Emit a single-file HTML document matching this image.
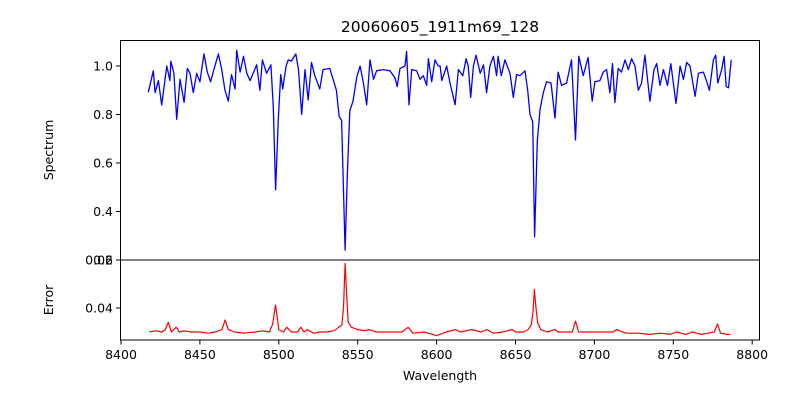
<!DOCTYPE html>
<html><head><meta charset="utf-8"><style>
body{margin:0;background:#fff;}
svg{display:block;font-family:"DejaVu Sans","Liberation Sans",sans-serif;}
</style></head><body>
<svg id="chart" width="800" height="400">
<rect width="800" height="400" fill="#fff"/>
<text x="440" y="32" font-size="15.5" text-anchor="middle">20060605_1911m69_128</text>
<g id="topPanel"></g>
<g id="botPanel"></g>
<g id="xax"></g>
<text x="440" y="380" font-size="12.5" text-anchor="middle">Wavelength</text>
<text transform="translate(53,150) rotate(-90)" font-size="12.5" text-anchor="middle">Spectrum</text>
<text transform="translate(53,300) rotate(-90)" font-size="12.5" text-anchor="middle">Error</text>
</svg>
<script>
const specWave=[8417.3,8420.5,8421.6,8423.7,8425.8,8429,8431,8431.6,8433.5,8435.3,8437.4,8440,8442,8443.7,8445.8,8448,8450,8452.6,8454.7,8456.8,8458.9,8461.7,8463.8,8465.9,8468,8470,8472.3,8473.3,8475.5,8477.6,8479.7,8481.8,8486,8488,8489.6,8492.3,8495,8496.5,8498,8499.7,8501.2,8502.5,8504.6,8506,8508,8510.8,8512.5,8514.5,8516.6,8518.6,8520.7,8522.8,8526,8528,8532.3,8534.4,8536.5,8538.3,8539.8,8542,8543.5,8545,8547,8549.4,8551.5,8553.6,8555.7,8557.8,8560,8562,8566.3,8570.5,8573.7,8575,8576.8,8580,8581,8582.5,8584.2,8587.4,8589.5,8591.6,8593.7,8594.8,8596.9,8599,8601,8602.2,8603.3,8606.4,8608.5,8611.7,8613.8,8616.6,8618.7,8620,8621.6,8623.3,8625,8627.6,8629.7,8631.7,8633.8,8636,8638,8639,8641,8643.3,8646.5,8648.6,8650.7,8652.8,8656,8657.7,8659.2,8660.9,8662.1,8663.8,8665.5,8667.6,8669.7,8672.5,8675,8677,8679.2,8682.4,8685.5,8688,8690.1,8692.9,8696,8698.6,8700.3,8703.5,8705.6,8707.7,8709.8,8711.5,8713,8715.1,8717.2,8719.4,8721.5,8723.6,8725.7,8727.8,8729.9,8732,8735.2,8737.8,8739.5,8741.6,8743.7,8746.3,8748.4,8751.7,8754.3,8756.4,8758.5,8760.6,8763.8,8765.9,8769.1,8771.2,8772.9,8775.4,8776.9,8778.2,8780.7,8782.2,8783.5,8785,8786.7];
const specFlux=[0.892,0.98,0.89,0.94,0.839,1.0,0.94,1.02,0.97,0.78,0.945,0.85,0.99,0.97,0.89,0.97,0.935,1.05,0.975,0.935,0.985,1.05,0.985,0.9,0.855,0.965,0.905,1.065,0.975,1.04,0.97,0.94,1.005,0.9,1.025,0.97,1.005,0.83,0.489,0.78,0.965,0.905,1.0,1.025,1.02,1.05,0.985,0.8,0.985,0.86,1.015,0.96,0.905,0.985,0.99,0.945,0.9,0.79,0.776,0.241,0.56,0.815,0.855,0.955,1.0,0.93,0.84,1.025,0.945,0.98,0.985,0.98,0.95,0.915,0.99,1.0,1.06,0.84,0.985,0.98,0.945,0.96,0.92,1.03,0.935,1.025,1.0,1.0,0.94,1.0,0.93,0.84,0.985,0.96,1.03,1.0,0.87,1.0,1.045,0.97,1.005,0.89,1.0,1.04,0.96,1.04,0.96,1.025,0.97,0.87,0.965,0.96,0.98,0.9,0.8,0.77,0.296,0.69,0.82,0.89,0.935,0.93,0.785,0.975,0.92,0.93,1.025,0.695,1.04,0.96,1.035,0.855,0.935,0.94,0.975,0.985,0.89,1.01,0.85,0.99,0.975,1.025,0.985,1.03,1.0,0.9,0.93,1.045,0.855,0.985,1.01,0.92,0.985,0.92,1.01,0.845,1.0,0.945,1.015,1.0,0.875,0.97,0.975,0.935,0.9,1.025,1.045,0.93,0.985,1.04,0.915,0.91,1.025];
const errWave=[8418,8422,8426,8428,8430,8432,8435,8437,8440,8445,8450,8455,8460,8464,8466,8468,8472,8478,8485,8490,8494,8496,8498,8500,8503,8505,8508,8512,8514,8516,8518,8522,8526,8530,8535,8538,8540,8541,8542,8543,8544,8546,8550,8555,8557,8562,8570,8578,8582,8585,8592,8600,8606,8612,8615,8622,8628,8632,8636,8642,8648,8650,8655,8658,8660,8661,8662,8663,8664,8666,8670,8675,8677,8682,8686,8688,8690,8695,8705,8712,8714,8720,8728,8735,8742,8748,8752,8758,8762,8768,8772,8776,8778,8780,8784,8786];
const errVal=[0.030,0.0305,0.030,0.031,0.034,0.030,0.032,0.030,0.0305,0.030,0.030,0.0295,0.030,0.031,0.035,0.031,0.030,0.0295,0.030,0.0305,0.030,0.033,0.0412,0.031,0.030,0.032,0.030,0.030,0.032,0.030,0.031,0.0295,0.030,0.030,0.0305,0.032,0.033,0.040,0.0586,0.045,0.034,0.032,0.031,0.0305,0.031,0.030,0.030,0.030,0.032,0.0295,0.030,0.0285,0.030,0.031,0.030,0.031,0.030,0.031,0.0295,0.030,0.031,0.030,0.030,0.031,0.033,0.038,0.0477,0.040,0.034,0.031,0.030,0.031,0.030,0.030,0.030,0.0345,0.030,0.030,0.030,0.030,0.031,0.0295,0.0295,0.029,0.0295,0.029,0.030,0.029,0.030,0.029,0.0295,0.030,0.0333,0.0295,0.029,0.029];
const xTicks=[8400,8450,8500,8550,8600,8650,8700,8750,8800];
const topTicks=[0.2,0.4,0.6,0.8,1.0];
const botTicks=[0.04,0.06];

const NS="http://www.w3.org/2000/svg";
const X=w=>121+(w-8400)*1.578;
const YT=v=>260-(v-0.2)*242.5;
const YB=e=>308-(e-0.04)*2400;
function mk(tag,attrs,parent){const el=document.createElementNS(NS,tag);for(const k in attrs)el.setAttribute(k,attrs[k]);parent.appendChild(el);return el;}
const gTop=document.getElementById('topPanel'),gBot=document.getElementById('botPanel'),gX=document.getElementById('xax');

let d=specWave.map((w,i)=>(i?'L':'M')+X(w).toFixed(1)+','+YT(specFlux[i]).toFixed(1)).join('');
let p=mk('path',{d:d,fill:'none',stroke:'#0000ff','stroke-width':1.3,'stroke-linejoin':'round'},gTop);


d=errWave.map((w,i)=>(i?'L':'M')+X(w).toFixed(1)+','+YB(errVal[i]).toFixed(1)).join('');
p=mk('path',{d:d,fill:'none',stroke:'#ff0000','stroke-width':1.2,'stroke-linejoin':'round'},gBot);



let r=mk('rect',{x:120.5,y:40.5,width:639,height:219.5,fill:'none',stroke:'#000','stroke-width':1},gTop);


r=mk('rect',{x:120.5,y:260,width:639,height:80,fill:'none',stroke:'#000','stroke-width':1},gBot);



topTicks.forEach(v=>{const y=YT(v);
 mk('line',{x1:116,x2:120.5,y1:y,y2:y,stroke:'#000'},gTop);
 const t=mk('text',{x:113,y:y+4.5,'font-size':12.5,'text-anchor':'end'},gTop);t.textContent=v.toFixed(1);
 
 });
botTicks.forEach(v=>{const y=YB(v);
 mk('line',{x1:116,x2:120.5,y1:y,y2:y,stroke:'#000'},gBot);
 const t=mk('text',{x:113,y:y+4.5,'font-size':12.5,'text-anchor':'end'},gBot);t.textContent=v.toFixed(2);
 
 });
xTicks.forEach(v=>{const x=X(v);
 mk('line',{x1:x,x2:x,y1:340,y2:344.5,stroke:'#000'},gX);
 const t=mk('text',{x:x,y:359,'font-size':12.5,'text-anchor':'middle'},gX);t.textContent=v;
 
 });
</script>
</body></html>
